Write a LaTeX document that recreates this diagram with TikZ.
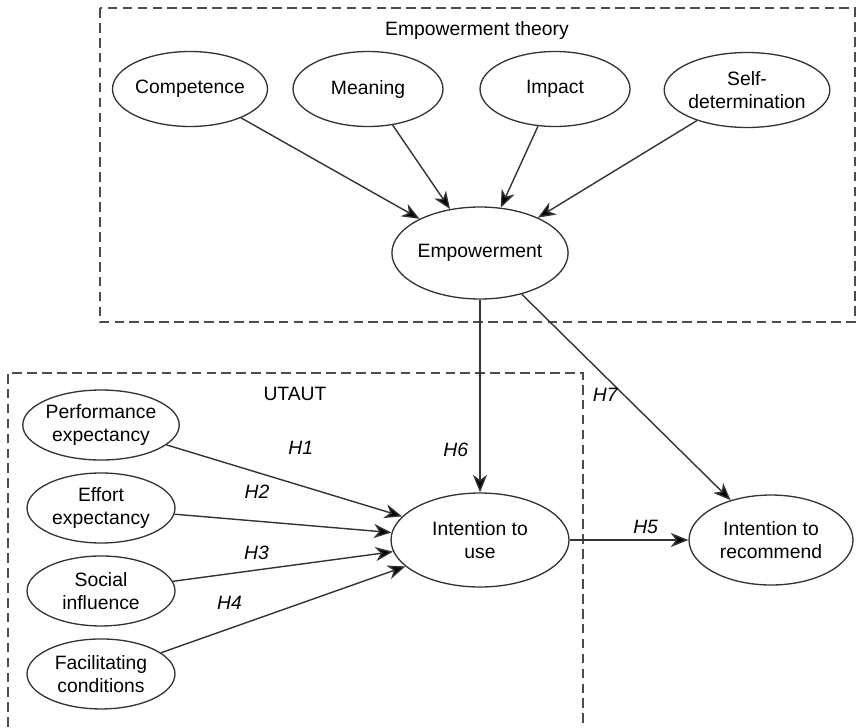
\documentclass[tikz,border=0pt]{standalone}
\usepackage{fontspec}
\setmainfont{Liberation Sans}
\usetikzlibrary{shapes.geometric,arrows.meta}
\tikzset{
  construct/.style={ellipse,draw=black!80,line width=0.75pt,inner sep=0pt,align=center,
    font=\fontsize{11}{13.5}\selectfont},
  boxlabel/.style={font=\fontsize{11}{13.5}\selectfont},
  hyp/.style={font=\fontsize{11}{13.5}\selectfont\itshape},
  frame/.style={draw=black!70,dash pattern=on 5.5pt off 3pt,line width=0.8pt},
  link/.style={-{Stealth[length=10pt,width=8pt,inset=3pt]},draw=black!80,line width=0.8pt}
}
\begin{document}
\begin{tikzpicture}[x=0.02cm,y=-0.02cm,node distance=1.66cm]
\useasboundingbox (0,0) rectangle (857,727);
% empowerment theory
\draw[frame] (100,8) rectangle (855,322);
\node[boxlabel] (theorylbl) at (477,31) {Empowerment theory};
\node[construct,minimum width=3cm,minimum height=1.5cm] (comp) at (190,89) {Competence};
\node[construct,minimum width=3cm,minimum height=1.5cm] (mean) at (368,89) {Meaning};
\node[construct,minimum width=3cm,minimum height=1.5cm] (imp) at (555,89) {Impact};
\node[construct,minimum width=3cm,minimum height=1.5cm] (selfdet) at (747,90) {Self-\\determination};
\node[construct,minimum width=3.28cm,minimum height=1.84cm] (emp) at (480,253) {Empowerment};
% utaut
\draw[frame] (8,727) |- (583,373) -- (583,727);
\node[boxlabel] (utautlbl) at (295,394) {UTAUT};
\node[construct,minimum width=2.96cm,minimum height=1.4cm] (perf) at (101,425) {Performance\\expectancy};
\node[construct,minimum width=2.96cm,minimum height=1.4cm,below of=perf] (effort) {Effort\\expectancy};
\node[construct,minimum width=2.96cm,minimum height=1.4cm,below of=effort] (social) {Social\\influence};
\node[construct,minimum width=2.96cm,minimum height=1.4cm,below of=social] (facil) {Facilitating\\conditions};
\node[construct,minimum width=3.56cm,minimum height=1.88cm] (intuse) at (480,540) {Intention to\\use};
\node[construct,minimum width=3.28cm,minimum height=1.8cm] (recom) at (771,540) {Intention to\\recommend};
% paths
\draw[link](comp)edge(emp)(mean)edge(emp)(imp)edge(emp)(selfdet)edge(emp);
\draw[link](emp)edge node[hyp,left=3pt,pos=.78]{H6}(intuse)(emp)edge node[hyp,left,pos=.49]{H7}(recom);
\draw[link](perf)edge node[hyp,above=14pt,pos=.57]{H1}(intuse)(effort)edge node[hyp,above=9pt,pos=.38]{H2}(intuse);
\draw[link](social)edge node[hyp,above=2pt,pos=.38]{H3}(intuse)(facil)edge node[hyp,above=7pt,pos=.28]{H4}(intuse);
\draw[link](intuse)edge node[hyp,above,pos=.64]{H5}(recom);
\end{tikzpicture}
\end{document}
